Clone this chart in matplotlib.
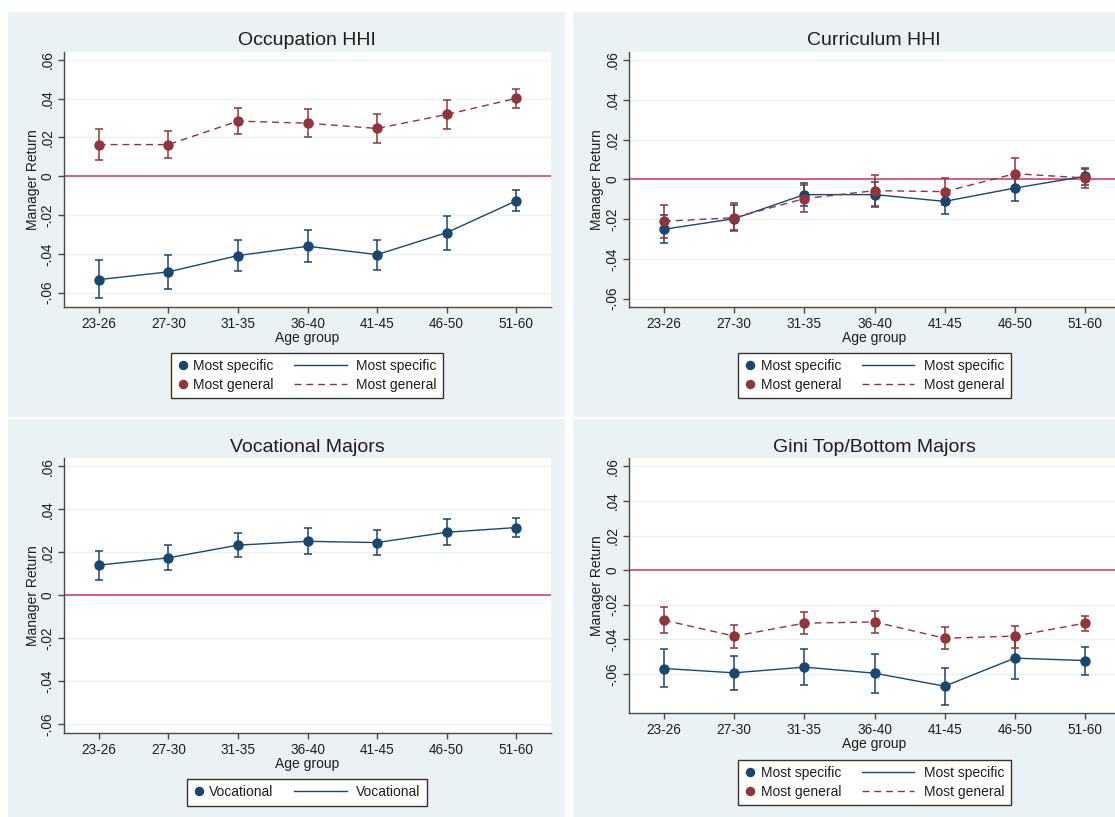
import numpy as np
import matplotlib
matplotlib.use("Agg")
import matplotlib.pyplot as plt
from matplotlib.patches import Rectangle
from matplotlib.lines import Line2D
from matplotlib.legend_handler import HandlerBase

plt.rcParams["font.family"] = ["Liberation Sans", "DejaVu Sans"]

age_groups = ["23-26", "27-30", "31-35", "36-40", "41-45", "46-50", "51-60"]

# Occupation HHI
occ_spec = [-0.0533, -0.0493, -0.0409, -0.0361, -0.0404, -0.0291, -0.0127]
occ_spec_hi = [-0.0433, -0.0407, -0.0328, -0.0278, -0.0327, -0.0203, -0.0072]
occ_spec_lo = [-0.0629, -0.0579, -0.0488, -0.0442, -0.0481, -0.0380, -0.0181]
occ_gen = [0.0163, 0.0163, 0.0284, 0.0273, 0.0246, 0.0318, 0.0401]
occ_gen_hi = [0.0242, 0.0232, 0.0351, 0.0344, 0.0320, 0.0392, 0.0450]
occ_gen_lo = [0.0086, 0.0095, 0.0217, 0.0203, 0.0172, 0.0244, 0.0351]

# Curriculum HHI
cur_spec = [-0.0251, -0.0198, -0.0077, -0.0077, -0.0111, -0.0044, 0.0015]
cur_spec_hi = [-0.0181, -0.0131, -0.0018, -0.0013, -0.0060, 0.0028, 0.0054]
cur_spec_lo = [-0.0320, -0.0256, -0.0136, -0.0139, -0.0173, -0.0109, -0.0027]
cur_gen = [-0.0211, -0.0193, -0.0097, -0.0057, -0.0062, 0.0028, 0.0007]
cur_gen_hi = [-0.0131, -0.0119, -0.0027, 0.0020, 0.0007, 0.0107, 0.0059]
cur_gen_lo = [-0.0293, -0.0261, -0.0164, -0.0134, -0.0131, -0.0042, -0.0045]

# Vocational majors
voc = [0.0140, 0.0174, 0.0233, 0.0251, 0.0245, 0.0293, 0.0315]
voc_hi = [0.0205, 0.0233, 0.0289, 0.0312, 0.0304, 0.0355, 0.0359]
voc_lo = [0.0073, 0.0115, 0.0177, 0.0194, 0.0189, 0.0233, 0.0273]

# Gini top/bottom majors
gini_spec = [-0.0568, -0.0593, -0.0560, -0.0595, -0.0670, -0.0508, -0.0522]
gini_spec_hi = [-0.0458, -0.0493, -0.0458, -0.0483, -0.0564, -0.0393, -0.0443]
gini_spec_lo = [-0.0672, -0.0693, -0.0663, -0.0709, -0.0776, -0.0628, -0.0604]
gini_gen = [-0.0289, -0.0381, -0.0306, -0.0299, -0.0393, -0.0381, -0.0306]
gini_gen_hi = [-0.0214, -0.0316, -0.0243, -0.0237, -0.0329, -0.0320, -0.0262]
gini_gen_lo = [-0.0362, -0.0447, -0.0366, -0.0362, -0.0456, -0.0447, -0.0349]

yticks = [-0.06, -0.04, -0.02, 0, 0.02, 0.04, 0.06]
ytick_labels = ["-.06", "-.04", "-.02", "0", ".02", ".04", ".06"]

NAVY = "#1A476F"
MAROON = "#90353B"
BG = "#EAF2F3"
REF = "#D7456A"
AXC = "#4a4a4a"
TXT = "#1e1e1e"
DASH = (0, (5, 3.5))

W, H = 1115, 817
fig = plt.figure(figsize=(W / 100, H / 100), dpi=100, facecolor="white")


class DotHandler(HandlerBase):
    def create_artists(self, legend, orig, xdescent, ydescent, width, height, fontsize, trans):
        dot = Line2D([width / 2 - xdescent], [height / 2 - ydescent], marker="o", ls="none",
                     color=orig.get_color(), markersize=5.8, transform=trans)
        return [dot]


class LongLineHandler(HandlerBase):
    def create_artists(self, legend, orig, xdescent, ydescent, width, height, fontsize, trans):
        x1 = width - xdescent - 3.5
        y = height / 2 - ydescent
        ln = Line2D([x1 - 37.5, x1], [y, y])
        ln.update_from(orig)
        ln.set_transform(trans)
        return [ln]


def panel_bg(x0, y0, x1, y1):
    fig.add_artist(Rectangle((x0 / W, 1 - y1 / H), (x1 - x0) / W, (y1 - y0) / H,
                             transform=fig.transFigure, facecolor=BG, edgecolor="none", zorder=0))


def make_ax(left, top, right, bottom, ylim):
    ax = fig.add_axes([left / W, 1 - bottom / H, (right - left) / W, (bottom - top) / H])
    ax.set_facecolor("white")
    ax.set_xlim(-0.5, 6.5)
    ax.set_ylim(*ylim)
    for s in ["top", "right"]:
        ax.spines[s].set_visible(False)
    for s in ["left", "bottom"]:
        ax.spines[s].set_color(AXC)
        ax.spines[s].set_linewidth(1.0)
    ax.set_xticks(range(len(age_groups)))
    ax.set_xticklabels(age_groups, fontsize=9.8, color=TXT)
    ax.set_yticks(yticks)
    ax.set_yticklabels(ytick_labels, fontsize=9.8, color=TXT, rotation=90, va="center")
    ax.tick_params(axis="both", length=4, width=1, color=AXC, pad=3)
    ax.grid(axis="y", color=BG, lw=1.0)
    ax.set_axisbelow(True)
    ax.axhline(0, color=REF, lw=1.2, zorder=1.5)
    return ax


def draw_series(ax, y, lo, hi, color, ls):
    x = np.arange(len(y))
    y = np.array(y)
    err = [y - np.array(lo), np.array(hi) - y]
    ax.errorbar(x, y, yerr=err, fmt="none", ecolor=color, elinewidth=1.1,
                capsize=3, capthick=1.1, zorder=3)
    ax.plot(x, y, color=color, lw=1.0, ls=ls, zorder=3)
    ax.plot(x, y, "o", color=color, ms=6.5, zorder=4)


def add_legend(ax, entries, cx, top):
    handles, labels = [], []
    for lab, color, ls in entries:
        handles.append(Line2D([], [], marker="o", ls="none", color=color))
        labels.append(lab)
    for lab, color, ls in entries:
        handles.append(Line2D([], [], color=color, ls=ls, lw=1.0))
        labels.append(lab)
    hmap = {}
    n = len(entries)
    for h in handles[:n]:
        hmap[h] = DotHandler()
    for h in handles[n:]:
        hmap[h] = LongLineHandler()
    leg = fig.legend(handles, labels, ncol=2, loc="upper center",
                     bbox_to_anchor=(cx / W, 1 - top / H), bbox_transform=fig.transFigure,
                     handler_map=hmap, handlelength=0.8, handletextpad=0.35,
                     columnspacing=4.8, labelspacing=0.35, borderpad=0.45, borderaxespad=0,
                     fontsize=10, frameon=True, fancybox=False, framealpha=1)
    leg.get_frame().set_edgecolor("#333333")
    leg.get_frame().set_linewidth(1.0)
    for t in leg.get_texts():
        t.set_color(TXT)
    return leg


spec_gen = [("Most specific", NAVY, "-"), ("Most general", MAROON, DASH)]

# panel backgrounds
panel_bg(8, 12, 565, 417)
panel_bg(573, 12, 1130, 417)
panel_bg(8, 419, 565, 830)
panel_bg(573, 419, 1130, 830)

# Panel 1: Occupation HHI
ax1 = make_ax(64, 52, 551, 307, (-0.0674, 0.064))
draw_series(ax1, occ_spec, occ_spec_lo, occ_spec_hi, NAVY, "-")
draw_series(ax1, occ_gen, occ_gen_lo, occ_gen_hi, MAROON, DASH)
fig.text(307 / W, 1 - 45 / H, "Occupation HHI", ha="center", va="baseline", fontsize=14, color=TXT)
fig.text(307 / W, 1 - 342 / H, "Age group", ha="center", va="baseline", fontsize=10, color=TXT)
fig.text(33 / W, 1 - 179.5 / H, "Manager Return", rotation=90, ha="center", va="center", fontsize=10, color=TXT)
add_legend(ax1, spec_gen, 307, 353)

# Panel 2: Curriculum HHI
ax2 = make_ax(629, 52, 1120, 307, (-0.0642, 0.064))
draw_series(ax2, cur_spec, cur_spec_lo, cur_spec_hi, NAVY, "-")
draw_series(ax2, cur_gen, cur_gen_lo, cur_gen_hi, MAROON, DASH)
fig.text(874 / W, 1 - 45 / H, "Curriculum HHI", ha="center", va="baseline", fontsize=14, color=TXT)
fig.text(874 / W, 1 - 342 / H, "Age group", ha="center", va="baseline", fontsize=10, color=TXT)
fig.text(597 / W, 1 - 179.5 / H, "Manager Return", rotation=90, ha="center", va="center", fontsize=10, color=TXT)
add_legend(ax2, spec_gen, 874.5, 353)

# Panel 3: Vocational Majors
ax3 = make_ax(64, 458, 551, 733, (-0.0642, 0.0639))
draw_series(ax3, voc, voc_lo, voc_hi, NAVY, "-")
fig.text(307 / W, 1 - 452 / H, "Vocational Majors", ha="center", va="baseline", fontsize=14, color=TXT)
fig.text(307 / W, 1 - 768 / H, "Age group", ha="center", va="baseline", fontsize=10, color=TXT)
fig.text(33 / W, 1 - 595.5 / H, "Manager Return", rotation=90, ha="center", va="center", fontsize=10, color=TXT)
add_legend(ax3, [("Vocational", NAVY, "-")], 307, 779)

# Panel 4: Gini Top/Bottom Majors
ax4 = make_ax(629, 458, 1120, 713, (-0.0825, 0.0648))
draw_series(ax4, gini_spec, gini_spec_lo, gini_spec_hi, NAVY, "-")
draw_series(ax4, gini_gen, gini_gen_lo, gini_gen_hi, MAROON, DASH)
fig.text(874 / W, 1 - 452 / H, "Gini Top/Bottom Majors", ha="center", va="baseline", fontsize=14, color=TXT)
fig.text(874 / W, 1 - 748 / H, "Age group", ha="center", va="baseline", fontsize=10, color=TXT)
fig.text(597 / W, 1 - 585.5 / H, "Manager Return", rotation=90, ha="center", va="center", fontsize=10, color=TXT)
add_legend(ax4, spec_gen, 874.5, 760)

fig.savefig("out.png", dpi=100, facecolor="white")
